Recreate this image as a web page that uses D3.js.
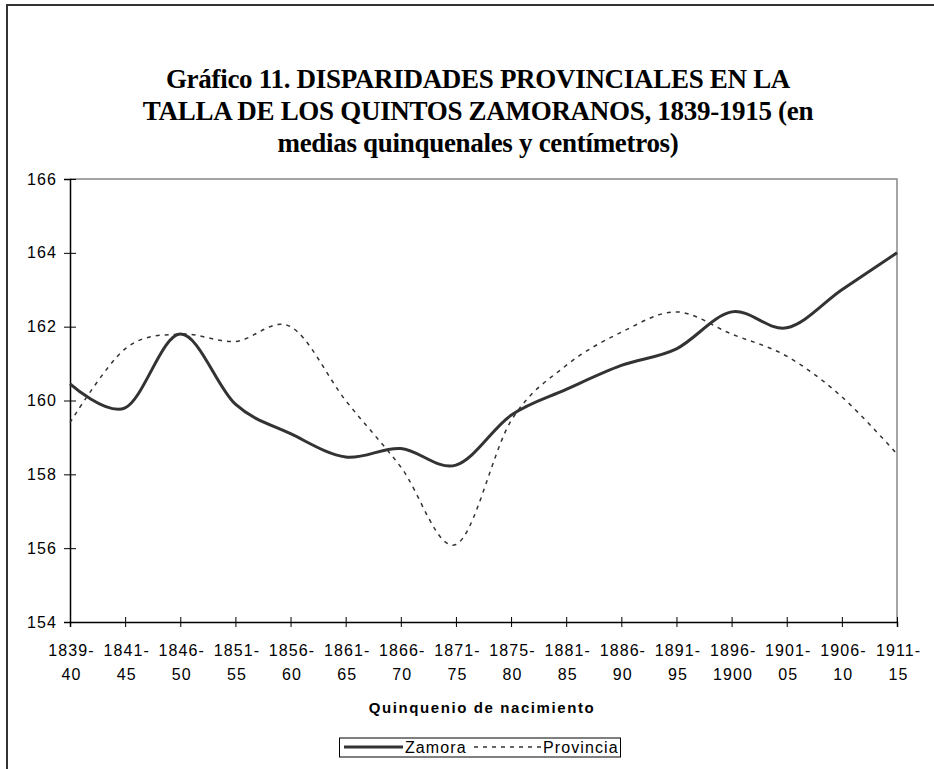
<!DOCTYPE html>
<html>
<head>
<meta charset="utf-8">
<script src="https://cdn.jsdelivr.net/npm/d3@7"></script>
<style>
    body { margin: 0; background: #fff; }
    svg { display: block; }
    .tick text { font-family: "Liberation Sans", Arial, sans-serif; }
</style>
</head>
<body>
<div id="chart"></div>
<script>

// quinquenios (eje x)
var quinquenios = ["1839-40", "1841-45", "1846-50", "1851-55", "1856-60", "1861-65", "1866-70", "1871-75",
    "1875-80", "1881-85", "1886-90", "1891-95", "1896-1900", "1901-05", "1906-10", "1911-15"];

// talla media en cm
var zamora = [160.45, 159.8, 161.8, 159.9, 159.1, 158.47, 158.7, 158.25,
    159.6, 160.3, 160.95, 161.4, 162.4, 161.97, 163.0, 164.0];

var provincia = [159.4, 161.4, 161.8, 161.6, 162.0, 160.0, 158.2, 156.1,
    159.45, 160.95, 161.85, 162.4, 161.8, 161.2, 160.1, 158.55];

var yTicks = [154, 156, 158, 160, 162, 164, 166];

var titulo = ["Gráfico 11. DISPARIDADES PROVINCIALES EN LA",
    "TALLA DE LOS QUINTOS ZAMORANOS, 1839-1915 (en",
    "medias quinquenales y centímetros)"];

var series = [
    {name: "Zamora", values: zamora},
    {name: "Provincia", values: provincia}
];


var width = 934,
    height = 769;

var svg = d3.select("#chart").append("svg")
    .attr("width", width)
    .attr("height", height);

// marco exterior (solo se ve arriba y a la izquierda)
svg.append("rect")
    .attr("x", 7).attr("y", 5)
    .attr("width", 1200).attr("height", 1200)
    .attr("fill", "none")
    .attr("stroke", "#333")
    .attr("stroke-width", 2);

// titulo
svg.append("g").selectAll("text")
    .data(titulo)
    .enter().append("text")
    .attr("x", 478)
    .attr("y", function (d, i) { return 88 + i * 32; })
    .attr("text-anchor", "middle")
    .style("font-family", "'Liberation Serif', 'Times New Roman', serif")
    .style("font-weight", "bold")
    .style("font-size", "27px")
    .style("letter-spacing", "-0.3px")
    .text(function (d) { return d; });

// area del grafico
var plotLeft = 70, plotRight = 897, plotTop = 179, plotBottom = 622;

var x = d3.scalePoint()
    .domain(quinquenios)
    .range([plotLeft, plotRight]);

var y = d3.scaleLinear()
    .domain([154, 166])
    .range([plotBottom, plotTop]);

// borde gris del area
svg.append("path")
    .attr("d", "M" + plotLeft + "," + plotTop + "H" + plotRight + "V" + plotBottom)
    .attr("fill", "none")
    .attr("stroke", "#888")
    .attr("stroke-width", 1.5);

// eje y
var yAxis = svg.append("g")
    .attr("transform", "translate(" + plotLeft + ",0)")
    .call(d3.axisLeft(y).tickValues(yTicks).tickSize(6).tickPadding(7));

yAxis.select(".domain").attr("stroke", "#000").attr("stroke-width", 1.5);
yAxis.selectAll(".tick line").attr("x1", 6).attr("stroke", "#000");
yAxis.selectAll(".tick text")
    .style("font-size", "16px")
    .style("letter-spacing", "1.1px")
    .attr("fill", "#000");

// eje x
var xAxis = svg.append("g")
    .attr("transform", "translate(0," + plotBottom + ")")
    .call(d3.axisBottom(x).tickSize(5).tickFormat(""));

xAxis.select(".domain").attr("stroke", "#000").attr("stroke-width", 1.5);
xAxis.selectAll(".tick line").attr("y1", -5).attr("stroke", "#000");

// etiquetas en dos lineas: "1839-" / "40"
var xLabels = xAxis.selectAll(".tick").append("text")
    .attr("fill", "#000")
    .attr("text-anchor", "middle")
    .style("font-size", "16px")
    .style("letter-spacing", "1.1px");

xLabels.append("tspan")
    .attr("x", 1)
    .attr("y", 34)
    .text(function (d) { return d.split("-")[0] + "-"; });

xLabels.append("tspan")
    .attr("x", 1)
    .attr("y", 58)
    .text(function (d) { return d.split("-")[1]; });

// titulo eje x
svg.append("text")
    .attr("x", 482)
    .attr("y", 713)
    .attr("text-anchor", "middle")
    .style("font-family", "'Liberation Sans', Arial, sans-serif")
    .style("font-weight", "bold")
    .style("font-size", "15px")
    .style("letter-spacing", "1.6px")
    .text("Quinquenio de nacimiento");

// lineas suavizadas
var line = d3.line()
    .x(function (d, i) { return x(quinquenios[i]); })
    .y(function (d) { return y(d); })
    .curve(d3.curveCardinal.tension(0));

var estilos = {
    "Zamora": {width: 3, dash: null},
    "Provincia": {width: 1.5, dash: "4,5"}
};

svg.append("g").selectAll("path")
    .data(series)
    .enter().append("path")
    .attr("d", function (d) { return line(d.values); })
    .attr("fill", "none")
    .attr("stroke", "#333")
    .attr("stroke-width", function (d) { return estilos[d.name].width; })
    .attr("stroke-dasharray", function (d) { return estilos[d.name].dash; })
    .attr("stroke-linejoin", "round");

// leyenda
var legend = svg.append("g");

legend.append("rect")
    .attr("x", 339.5).attr("y", 738)
    .attr("width", 281).attr("height", 19)
    .attr("fill", "#fff")
    .attr("stroke", "#000")
    .attr("stroke-width", 1);

var legendPos = [{x1: 344, x2: 403, tx: 405}, {x1: 474, x2: 542, tx: 543}];

var items = legend.selectAll(".item")
    .data(series)
    .enter().append("g")
    .attr("class", "item");

items.append("line")
    .attr("x1", function (d, i) { return legendPos[i].x1; })
    .attr("x2", function (d, i) { return legendPos[i].x2; })
    .attr("y1", 747).attr("y2", 747)
    .attr("stroke", "#333")
    .attr("stroke-width", function (d) { return estilos[d.name].width; })
    .attr("stroke-dasharray", function (d) { return estilos[d.name].dash; });

items.append("text")
    .attr("x", function (d, i) { return legendPos[i].tx; })
    .attr("y", 753)
    .style("font-family", "'Liberation Sans', Arial, sans-serif")
    .style("font-size", "16px")
    .style("letter-spacing", "1.1px")
    .text(function (d) { return d.name; });

</script>
</body>
</html>
